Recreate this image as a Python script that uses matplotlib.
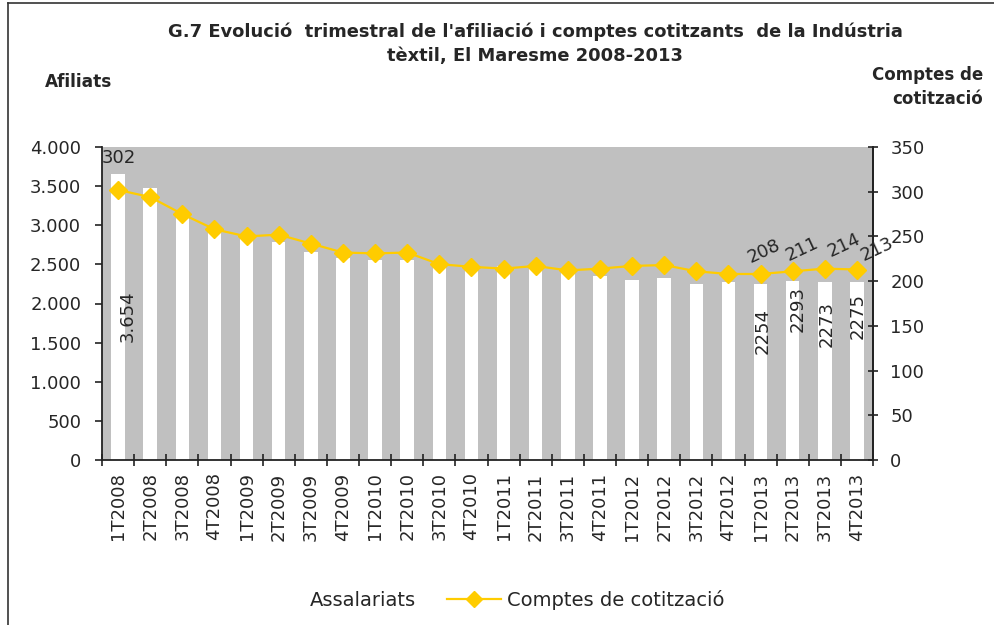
import matplotlib
matplotlib.use('Agg')
import matplotlib.pyplot as plt
from matplotlib.lines import Line2D
from matplotlib.patches import Patch
import numpy as np

quarters = ['1T2008', '2T2008', '3T2008', '4T2008',
            '1T2009', '2T2009', '3T2009', '4T2009',
            '1T2010', '2T2010', '3T2010', '4T2010',
            '1T2011', '2T2011', '3T2011', '4T2011',
            '1T2012', '2T2012', '3T2012', '4T2012',
            '1T2013', '2T2013', '3T2013', '4T2013']
assalariats = [3654, 3476, 3160, 2969, 2875, 2786, 2658, 2581, 2556, 2556, 2479, 2428,
               2479, 2505, 2400, 2351, 2300, 2326, 2249, 2275, 2254, 2293, 2273, 2275]
comptes = [302, 294, 275, 258, 250, 252, 242, 232, 231, 232, 219, 216,
           214, 217, 212, 214, 217, 218, 211, 208, 208, 211, 214, 213]

left_ticks = [0, 500, 1000, 1500, 2000, 2500, 3000, 3500, 4000]
left_ticklabels = ['0', '500', '1.000', '1.500', '2.000', '2.500', '3.000', '3.500', '4.000']
right_ticks = [0, 50, 100, 150, 200, 250, 300, 350]

# data labels shown in the original
bar_labels = {0: '3.654', 20: '2254', 21: '2293', 22: '2273', 23: '2275'}
bar_label_offsets = {0: (10, -142), 20: (2, -47), 21: (5, -28), 22: (2, -42), 23: (1, -34)}
line_labels = {0: '302', 20: '208', 21: '211', 22: '214', 23: '213'}
line_label_offsets = {0: (1, 32), 20: (3, 23), 21: (9, 22), 22: (19, 23), 23: (20, 20)}
line_label_rot = {0: 0, 20: 25, 21: 25, 22: 25, 23: 25}

TXT = '#262626'
GOLD = '#FFCC00'
FS = 13

fig = plt.figure(figsize=(9.94, 6.25), dpi=100)
ax = fig.add_axes([102 / 994, 1 - 460 / 625, (873 - 102) / 994, (460 - 147) / 625])
ax.set_facecolor('#C0C0C0')

x = np.arange(len(quarters))
bars = ax.bar(x, assalariats, width=0.42, color='white', edgecolor='none', zorder=2,
              label='Assalariats')
ax.set_xlim(-0.5, len(quarters) - 0.5)
ax.set_ylim(0, 4000)
ax.set_yticks(left_ticks)
ax.set_yticklabels(left_ticklabels)
ax.set_xticks(np.arange(-0.5, len(quarters), 1.0))
ax.set_xticklabels([])
ax.set_xticks(x, minor=True)
ax.set_xticklabels(quarters, minor=True, rotation=90)
ax.tick_params(axis='x', which='major', direction='inout', length=8, width=1.2, color='#222222')
ax.tick_params(axis='x', which='minor', length=0, pad=9, labelsize=FS, labelcolor=TXT)
ax.tick_params(axis='y', direction='out', length=5, width=1.2, color='#222222',
               labelsize=FS, labelcolor=TXT, pad=10)
for s in ['top']:
    ax.spines[s].set_visible(False)
for s in ['left', 'bottom', 'right']:
    ax.spines[s].set_color('#222222')
    ax.spines[s].set_linewidth(1.3)

for i, lab in bar_labels.items():
    dx, dy = bar_label_offsets[i]
    ax.annotate(lab, (x[i], assalariats[i]), xytext=(dx, dy), textcoords='offset pixels',
                rotation=90, ha='center', va='center', fontsize=FS, color=TXT, zorder=5)

ax2 = ax.twinx()
ax2.set_ylim(0, 350)
ax2.set_yticks(right_ticks)
ax2.plot(x, comptes, color=GOLD, lw=1.6, marker='D', markersize=9, markeredgecolor=GOLD,
         markerfacecolor=GOLD, zorder=4, label='Comptes de cotització')
ax2.tick_params(axis='y', direction='inout', length=7, width=1.2, color='#222222',
                labelsize=FS, labelcolor=TXT, pad=9)
for s in ['top', 'left', 'bottom']:
    ax2.spines[s].set_visible(False)
ax2.spines['right'].set_color('#222222')
ax2.spines['right'].set_linewidth(1.3)

for i, lab in line_labels.items():
    dx, dy = line_label_offsets[i]
    ax2.annotate(lab, (x[i], comptes[i]), xytext=(dx, dy), textcoords='offset pixels',
                 rotation=line_label_rot[i], ha='center', va='center', fontsize=FS,
                 color=TXT, zorder=6, annotation_clip=False)

fig.text(535 / 994, 1 - 32 / 625, "G.7 Evolució  trimestral de l'afiliació i comptes cotitzants  de la Indústria",
         ha='center', va='center', fontsize=12.9, fontweight='bold', color=TXT)
fig.text(535 / 994, 1 - 56 / 625, "tèxtil, El Maresme 2008-2013",
         ha='center', va='center', fontsize=12.9, fontweight='bold', color=TXT)
fig.text(45 / 994, 1 - 82 / 625, 'Afiliats', ha='left', va='center', fontsize=12.2,
         fontweight='bold', color=TXT)
fig.text(983 / 994, 1 - 87 / 625, 'Comptes de\ncotització', ha='right', va='center',
         fontsize=12, fontweight='bold', color=TXT, linespacing=1.45)

handles = [Patch(facecolor='white', edgecolor='none'),
           Line2D([0], [0], color=GOLD, lw=1.6, marker='D', markersize=8,
                  markerfacecolor=GOLD, markeredgecolor=GOLD)]
fig.legend(handles, ['Assalariats', 'Comptes de cotització'], loc='center',
           bbox_to_anchor=(487 / 994, 1 - 600 / 625), ncol=2, frameon=False,
           fontsize=14, labelcolor=TXT, handlelength=2.8, columnspacing=1.6, handletextpad=0.3)

# figure border (left and top edges)
fig.add_artist(Line2D([8 / 994, 8 / 994], [0, 1 - 3 / 625], transform=fig.transFigure,
                      color='#333333', lw=1.2))
fig.add_artist(Line2D([8 / 994, 1], [1 - 3 / 625, 1 - 3 / 625], transform=fig.transFigure,
                      color='#333333', lw=1.2))

fig.savefig('out.png', dpi=100)
